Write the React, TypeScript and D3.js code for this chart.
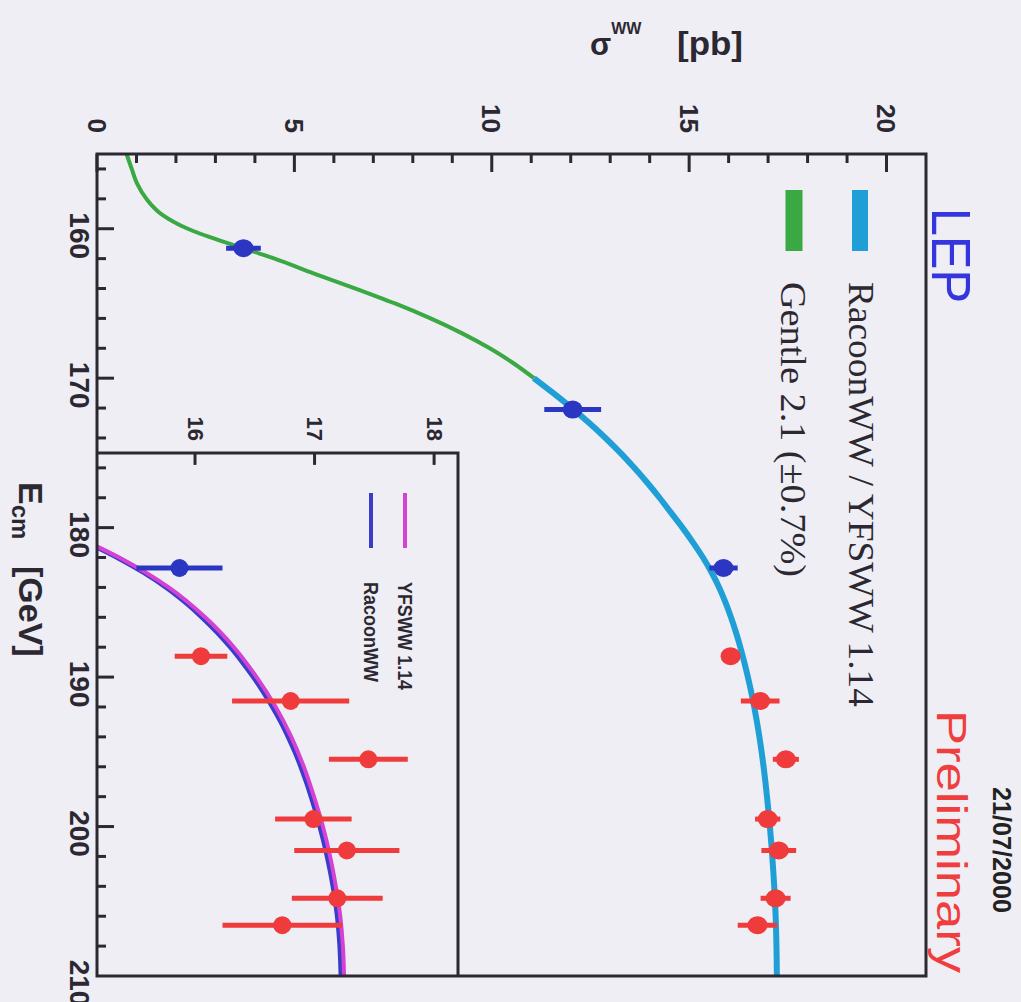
import React from "react";
import * as d3 from "d3";

// ---------------- data ----------------
const pointE = [161.3, 172.1, 182.7, 188.6, 191.6, 195.5, 199.5, 201.6, 204.8, 206.6];
const pointS = [3.71, 12.05, 15.87, 16.05, 16.8, 17.45, 16.99, 17.27, 17.19, 16.73];
const pointErr = [0.44, 0.72, 0.36, 0.22, 0.49, 0.33, 0.32, 0.44, 0.38, 0.5];
const pointFinal = [true, true, true, false, false, false, false, false, false, false];

const gentleE = [155, 156, 157, 158, 159, 160, 161, 162, 163, 164, 165, 166, 167, 168, 169, 170];
const gentleS = [0.75, 0.88, 1.02, 1.25, 1.62, 2.3, 3.35, 4.5, 5.5, 6.55, 7.55, 8.45, 9.25, 9.95, 10.55, 11.07];

const racoonE = [170, 171, 172, 173, 174, 175, 176, 177, 178, 179, 180, 181, 182, 183, 184, 185, 186, 187, 188, 189, 190,
  191, 192, 193, 194, 195, 196, 197, 198, 199, 200, 201, 202, 203, 204, 205, 206, 207, 208, 209, 210];
const racoonS = [11.07, 11.56, 12.03, 12.47, 12.88, 13.26, 13.61, 13.94, 14.25, 14.54, 14.83, 15.1, 15.35, 15.57, 15.76,
  15.92, 16.06, 16.185, 16.297, 16.397, 16.489, 16.573, 16.649, 16.718, 16.78, 16.836, 16.886, 16.931, 16.972, 17.01,
  17.045, 17.077, 17.106, 17.132, 17.155, 17.175, 17.191, 17.203, 17.212, 17.218, 17.222];

const yfswwE = [180, 182, 184, 186, 188, 190, 192, 194, 196, 198, 200, 202, 204, 206, 208, 210];
const yfswwS = [14.84, 15.365, 15.78, 16.085, 16.325, 16.515, 16.675, 16.805, 16.91, 16.995, 17.07, 17.13, 17.178,
  17.215, 17.237, 17.247];

const eMajorTicks = [160, 170, 180, 190, 200, 210];
const sigmaMajorTicks = [0, 5, 10, 15, 20];
const insetTicks = [16, 17, 18];

// ---------------- style ----------------
const BG = "#eeeef4";
const INK = "#2c2832";
const GREEN = "#3aa843";
const CYAN = "#1f9fd6";
const BLUE_PT = "#2b36c2";
const RED_PT = "#ef3b3b";
const BLUE_LINE = "#3a3ccc";
const MAGENTA = "#d541d3";
const SANS = "'Liberation Sans', Arial, sans-serif";
const SERIF = "'Liberation Serif', 'Times New Roman', serif";

type P = { e: number; s: number };
const mk = (E: number[], S: number[]): P[] => E.map((e, i) => ({ e, s: S[i] }));

function RText(props: {
  x: number; y: number; anchor?: string; size: number; weight?: string | number;
  fill?: string; family?: string; length?: number; children: React.ReactNode;
}) {
  const { x, y, anchor = "start", size, weight = "normal", fill = INK, family = SANS, length, children } = props;
  const extra: any = {};
  if (length) { extra.textLength = length; extra.lengthAdjust = "spacingAndGlyphs"; }
  return (
    <text transform={`translate(${x},${y}) rotate(90)`} textAnchor={anchor} fontSize={size}
      fontWeight={weight} fill={fill} fontFamily={family} {...extra}>
      {children}
    </text>
  );
}

export default function App() {
  const W = 1021, H = 1002;
  const sE = d3.scaleLinear().domain([155, 210]).range([154, 976]);
  const sS = d3.scaleLinear().domain([0, 21]).range([97, 926]);
  const sSi = d3.scaleLinear().domain([15.18, 18.2]).range([97, 458]);
  const top = sE(155), bottom = sE(210), left = sS(0), right = sS(21);
  const insetTop = sE(175), insetRight = sSi(18.2);

  const lineMain = d3.line<P>().x(d => sS(d.s)).y(d => sE(d.e)).curve(d3.curveMonotoneY);
  const lineInset = d3.line<P>().x(d => sSi(d.s)).y(d => sE(d.e)).curve(d3.curveMonotoneY);

  const gentle = mk(gentleE, gentleS);
  const racoon = mk(racoonE, racoonS);
  const yfsww = mk(yfswwE, yfswwS);
  const pts = pointE.map((e, i) => ({ e, s: pointS[i], err: pointErr[i], fin: pointFinal[i] }));

  const sigmaTicks = d3.range(0, 21, 1);
  const eTicks = d3.range(156, 210, 2);

  return (
    <div style={{ position: "fixed", left: 0, top: 0, width: W, height: H, background: BG }}>
      <svg width={W} height={H} style={{ display: "block" }}>
        <defs>
          <clipPath id="insetClip">
            <rect x={left} y={insetTop} width={insetRight - left} height={bottom - insetTop} />
          </clipPath>
        </defs>
        <rect x={0} y={0} width={W} height={H} fill={BG} />

        {/* main curves */}
        <path d={lineMain(gentle) || ""} fill="none" stroke={GREEN} strokeWidth={4} />
        <path d={lineMain(racoon) || ""} fill="none" stroke={CYAN} strokeWidth={6} />

        {/* main points */}
        {pts.map((p, i) => (
          <g key={"mp" + i}>
            <line x1={sS(p.s - p.err)} x2={sS(p.s + p.err)} y1={sE(p.e)} y2={sE(p.e)}
              stroke={p.fin ? BLUE_PT : RED_PT} strokeWidth={5} />
            <ellipse cx={sS(p.s)} cy={sE(p.e)} rx={10} ry={9} fill={p.fin ? BLUE_PT : RED_PT} />
          </g>
        ))}

        {/* main legend */}
        <line x1={794} x2={794} y1={190} y2={251} stroke={GREEN} strokeWidth={17} />
        <line x1={860} x2={860} y1={190} y2={251} stroke={CYAN} strokeWidth={16} />
        <RText x={849} y={282} size={36} family={SERIF} length={425}>RacoonWW / YFSWW 1.14</RText>
        <RText x={781} y={282} size={35} family={SERIF} length={295}>Gentle 2.1 (±0.7%)</RText>

        {/* inset */}
        <rect x={left} y={insetTop} width={insetRight - left} height={bottom - insetTop} fill={BG} />
        <g clipPath="url(#insetClip)">
          <path d={lineInset(racoon) || ""} fill="none" stroke={BLUE_LINE} strokeWidth={5} />
          <path d={lineInset(yfsww) || ""} fill="none" stroke={MAGENTA} strokeWidth={4} />
          {pts.filter(p => p.e > 175).map((p, i) => (
            <g key={"ip" + i}>
              <line x1={sSi(p.s - p.err)} x2={sSi(p.s + p.err)} y1={sE(p.e)} y2={sE(p.e)}
                stroke={p.fin ? BLUE_PT : RED_PT} strokeWidth={5} />
              <circle cx={sSi(p.s)} cy={sE(p.e)} r={9} fill={p.fin ? BLUE_PT : RED_PT} />
            </g>
          ))}
        </g>
        <line x1={371} x2={371} y1={493} y2={548} stroke={BLUE_LINE} strokeWidth={4} />
        <line x1={405} x2={405} y1={493} y2={548} stroke={MAGENTA} strokeWidth={4} />
        <RText x={364} y={582} size={20} weight="bold" length={100}>RacoonWW</RText>
        <RText x={398} y={582} size={20} weight="bold" length={108}>YFSWW 1.14</RText>
        {insetTicks.map(v => (
          <g key={"it" + v}>
            <line x1={sSi(v)} x2={sSi(v)} y1={insetTop} y2={insetTop + 12} stroke={INK} strokeWidth={3} />
            <RText x={sSi(v) - 7.5} y={441} anchor="end" size={22} weight="bold">{String(v)}</RText>
          </g>
        ))}
        <polyline points={`${left},${insetTop} ${insetRight},${insetTop} ${insetRight},${bottom}`}
          fill="none" stroke={INK} strokeWidth={3} />

        {/* main axes ticks */}
        {sigmaTicks.map(v => (
          <line key={"st" + v} x1={sS(v)} x2={sS(v)} y1={top}
            y2={top + (v % 5 === 0 ? 18 : 9)} stroke={INK} strokeWidth={3} />
        ))}
        {eTicks.map(e => (
          <line key={"et" + e} x1={left} x2={left + (e % 10 === 0 ? 17 : 9)} y1={sE(e)} y2={sE(e)}
            stroke={INK} strokeWidth={3} />
        ))}
        <rect x={left} y={top} width={right - left} height={bottom - top} fill="none" stroke={INK} strokeWidth={3} />

        {/* tick labels */}
        {sigmaMajorTicks.map(v => (
          <RText key={"sl" + v} x={sS(v) - 9.5} y={133} anchor="end" size={26} weight="bold">{String(v)}</RText>
        ))}
        {eMajorTicks.map(e => (
          <RText key={"el" + e} x={70} y={sE(e) + 7} anchor="middle" size={28} weight="bold">{String(e)}</RText>
        ))}

        {/* axis titles */}
        <text x={590} y={55} fontFamily={SANS} fontWeight="bold" fill={INK}>
          <tspan fontSize={31}>σ</tspan>
          <tspan fontSize={16} dy={-21}>WW</tspan>
        </text>
        <text x={677} y={55} fontFamily={SANS} fontWeight="bold" fontSize={33} fill={INK}
          textLength={66} lengthAdjust="spacingAndGlyphs">[pb]</text>
        <text transform={`translate(19,482) rotate(90)`} fontFamily={SANS} fontWeight="bold" fill={INK}>
          <tspan fontSize={34}>E</tspan>
          <tspan fontSize={24} dy={7}>cm</tspan>
        </text>
        <RText x={19} y={566} size={34} weight="bold">[GeV]</RText>

        {/* annotations */}
        <RText x={932} y={208} size={56} fill="#3535e0" length={95}>LEP</RText>
        <RText x={937} y={710} size={42} fill="#f03e3e" length={263}>Preliminary</RText>
        <RText x={993} y={787} size={26} weight="bold" fill="#222" length={126}>21/07/2000</RText>
      </svg>
    </div>
  );
}
